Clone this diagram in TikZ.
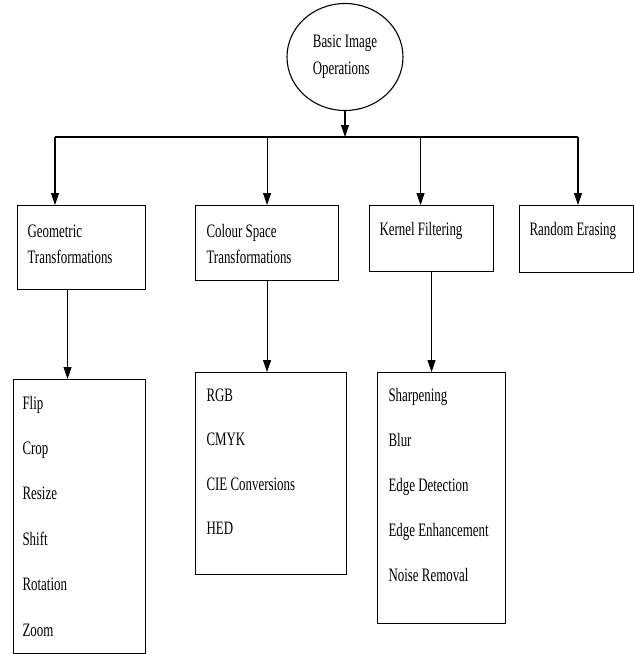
\documentclass[tikz,border=0pt]{standalone}
\usepackage{fontspec}
\setmainfont{Liberation Serif}[FakeStretch=0.68]
\usepackage{tikz}
\usetikzlibrary{shapes.geometric,arrows.meta}

\begin{document}
\begin{tikzpicture}[x=1pt, y=-1pt, line width=1.1pt,
    box/.style = {draw, rectangle, anchor=north west, inner sep=0pt},
    item/.style = {anchor=base west, inner sep=0pt, font=\fontsize{19}{26}\selectfont},
    arrow/.style = {-{Triangle[width=8pt,length=12pt]}}]
        \useasboundingbox (0,0) rectangle (634,654);
        \node[draw, ellipse, minimum width=116pt, minimum height=107pt, inner sep=0pt,
              align=left, font=\fontsize{19}{27}\selectfont] (root) at (345,57) {Basic Image\\Operations};
        \node[box, minimum width=128pt, minimum height=84pt] (geo) at (17,205) {};
        \node[box, minimum width=143pt, minimum height=75pt] (col) at (195,205) {};
        \node[box, minimum width=124pt, minimum height=66pt] (ker) at (369,205) {};
        \node[box, minimum width=114pt, minimum height=67pt] (rand) at (519,205) {};
        \node[box, minimum width=132pt, minimum height=274pt] (geolist) at (13,379) {};
        \node[box, minimum width=151pt, minimum height=202pt] (collist) at (195,372) {};
        \node[box, minimum width=128pt, minimum height=251pt] (kerlist) at (377,372) {};
        \node[item] (geoA) at (27,237) {Geometric};
        \node[item] (geoB) at (27,263) {Transformations};
        \node[item] (colA) at (206,237) {Colour Space};
        \node[item] (colB) at (206,263) {Transformations};
        \node[item] (kerA) at (379,235) {Kernel Filtering};
        \node[item] (randA) at (529,235) {Random Erasing};
        \foreach \t [count=\i] in {Flip,Crop,Resize,Shift,Rotation,Zoom}
          \node[item] (g\i) at (22,{409+45.4*(\i-1)}) {\t};
        \foreach \t [count=\i] in {RGB,CMYK,CIE Conversions,HED}
          \node[item] (c\i) at (206,{401+44.6*(\i-1)}) {\t};
        \foreach \t [count=\i] in {Sharpening,Blur,Edge Detection,Edge Enhancement,Noise Removal}
          \node[item] (k\i) at (388,{401+45*(\i-1)}) {\t};
        \coordinate (busL) at (55,137);
        \coordinate (busR) at (578,137);
        \draw (busL) -- (busR);
        \draw[arrow] (root.south) -- (root.south |- busL);
        \draw[arrow] (busL) -- (busL |- geo.north);
        \draw[arrow] (col.north |- busL) -- (col.north);
        \draw[arrow] ([xshift=-11pt]ker.north |- busL) -- ([xshift=-11pt]ker.north);
        \draw[arrow] (busR) -- (busR |- rand.north);
        \draw[arrow] ([xshift=-14pt]geo.south) -- ([xshift=-14pt]geo.south |- geolist.north);
        \draw[arrow] (col.south) -- (col.south |- collist.north);
        \draw[arrow] (ker.south) -- (ker.south |- kerlist.north);
      \end{tikzpicture}
\end{document}
